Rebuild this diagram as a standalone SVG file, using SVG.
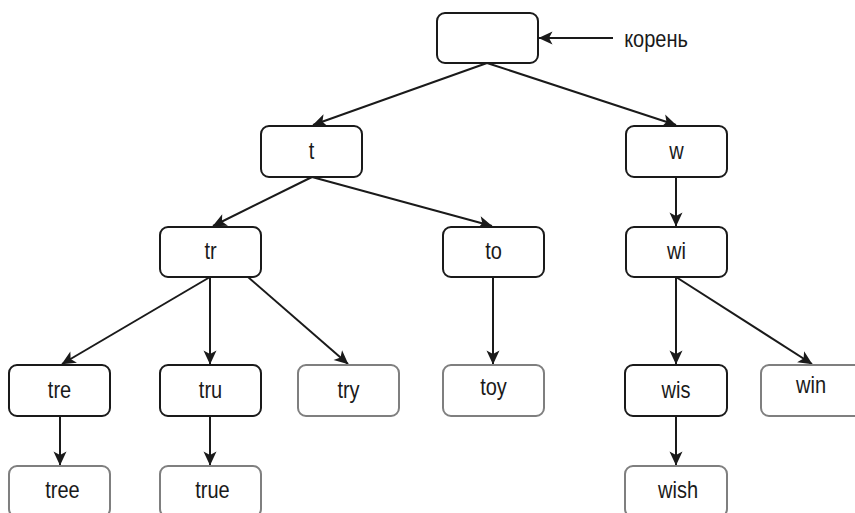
<svg xmlns="http://www.w3.org/2000/svg" width="855" height="513" viewBox="0 0 855 513">
  <defs>
    <marker id="arrow" markerUnits="userSpaceOnUse" markerWidth="14" markerHeight="13" refX="13.5" refY="6.5" orient="auto" overflow="visible">
      <path d="M0,0 L14,6.5 L0,13 L3.5,6.5 Z" fill="#1a1a1a"/>
    </marker>
  </defs>
  <style>
    .node rect { fill: #ffffff; stroke: #1a1a1a; stroke-width: 2; }
    .leaf rect { fill: #ffffff; stroke: #7f7f7f; stroke-width: 2; }
    text { font-family: "Liberation Sans", Arial, sans-serif; font-size: 20px; fill: #1a1a1a; text-anchor: middle; }
    .edges line { stroke: #1a1a1a; stroke-width: 2; marker-end: url(#arrow); }
  </style>
  <rect width="855" height="513" fill="#ffffff"/>

  <!-- connectors -->
  <g class="edges" id="edges">
    <line x1="613" y1="38" x2="539" y2="38"/>
    <line x1="487" y1="63" x2="313" y2="125"/>
    <line x1="487" y1="63" x2="676" y2="125"/>
    <line x1="312" y1="177" x2="213" y2="226"/>
    <line x1="312" y1="177" x2="492" y2="226"/>
    <line x1="676" y1="177" x2="676" y2="226"/>
    <line x1="210" y1="277" x2="62" y2="364"/>
    <line x1="210" y1="277" x2="210" y2="364"/>
    <line x1="248" y1="277" x2="348" y2="364"/>
    <line x1="493" y1="277" x2="493" y2="364"/>
    <line x1="676" y1="277" x2="676" y2="364"/>
    <line x1="676" y1="277" x2="812" y2="364"/>
    <line x1="60" y1="416" x2="60" y2="465"/>
    <line x1="210" y1="416" x2="210" y2="465"/>
    <line x1="676" y1="416" x2="676" y2="465"/>
  </g>

  <!-- root -->
  <g class="node" id="root">
    <rect x="437" y="13" width="101" height="50" rx="8"/>
  </g>
  <g id="root-label">
    <text transform="translate(656,47) scale(1,1.16)">корень</text>
  </g>

  <!-- level 1 -->
  <g class="node" id="n-t">
    <rect x="261" y="126" width="101" height="51" rx="8"/>
    <text transform="translate(311.5,159) scale(1,1.16)">t</text>
  </g>
  <g class="node" id="n-w">
    <rect x="626" y="126" width="101" height="51" rx="8"/>
    <text transform="translate(676.5,159) scale(1,1.16)">w</text>
  </g>

  <!-- level 2 -->
  <g class="node" id="n-tr">
    <rect x="160" y="227" width="101" height="50" rx="8"/>
    <text transform="translate(210.5,258.5) scale(1,1.16)">tr</text>
  </g>
  <g class="node" id="n-to">
    <rect x="443" y="227" width="101" height="50" rx="8"/>
    <text transform="translate(493.5,258.5) scale(1,1.16)">to</text>
  </g>
  <g class="node" id="n-wi">
    <rect x="626" y="227" width="101" height="50" rx="8"/>
    <text transform="translate(676.5,258.5) scale(1,1.16)">wi</text>
  </g>

  <!-- level 3 -->
  <g class="node" id="n-tre">
    <rect x="9" y="365" width="101" height="51" rx="8"/>
    <text transform="translate(59.5,398) scale(1,1.16)">tre</text>
  </g>
  <g class="node" id="n-tru">
    <rect x="160" y="365" width="101" height="51" rx="8"/>
    <text transform="translate(210.5,398) scale(1,1.16)">tru</text>
  </g>
  <g class="leaf" id="n-try">
    <rect x="298" y="365" width="101" height="51" rx="8"/>
    <text transform="translate(348.5,398) scale(1,1.16)">try</text>
  </g>
  <g class="leaf" id="n-toy">
    <rect x="443" y="365" width="101" height="51" rx="8"/>
    <text transform="translate(493.5,395) scale(1,1.16)">toy</text>
  </g>
  <g class="node" id="n-wis">
    <rect x="625" y="365" width="102" height="51" rx="8"/>
    <text transform="translate(676,398) scale(1,1.16)">wis</text>
  </g>
  <g class="leaf" id="n-win">
    <rect x="761" y="365" width="101" height="51" rx="8"/>
    <text transform="translate(811,393) scale(1,1.16)">win</text>
  </g>

  <!-- level 4 -->
  <g class="leaf" id="n-tree">
    <rect x="9" y="466" width="101" height="51" rx="8"/>
    <text transform="translate(62.5,498) scale(1,1.16)">tree</text>
  </g>
  <g class="leaf" id="n-true">
    <rect x="160" y="466" width="101" height="51" rx="8"/>
    <text transform="translate(212.5,498) scale(1,1.16)">true</text>
  </g>
  <g class="leaf" id="n-wish">
    <rect x="625" y="466" width="102" height="51" rx="8"/>
    <text transform="translate(678,498) scale(1,1.16)">wish</text>
  </g>
</svg>
